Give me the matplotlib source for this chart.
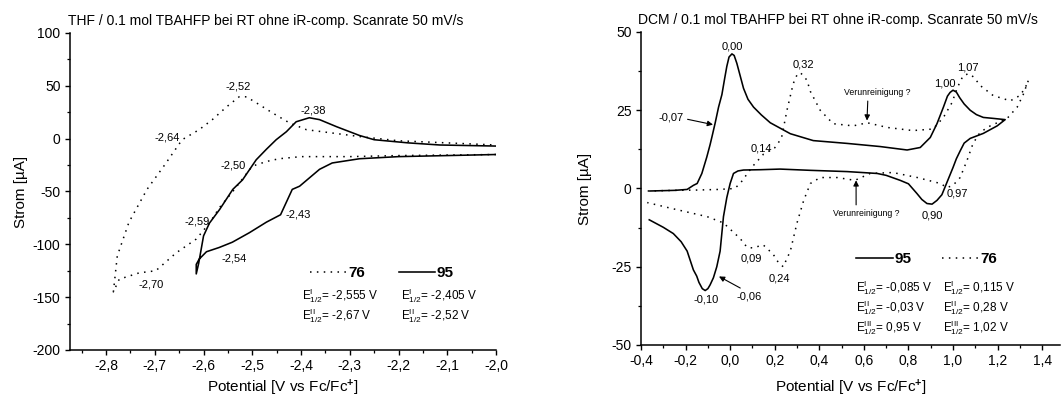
import matplotlib
matplotlib.use("Agg")
import matplotlib.pyplot as plt
from matplotlib.ticker import MultipleLocator, FuncFormatter

plt.rcParams['font.family'] = ['Liberation Sans', 'DejaVu Sans']
plt.rcParams['mathtext.fontset'] = 'custom'
plt.rcParams['mathtext.rm'] = 'Liberation Sans'
plt.rcParams['mathtext.it'] = 'Liberation Sans:italic'
plt.rcParams['mathtext.bf'] = 'Liberation Sans:bold'

# ---------------- THF data (potential in V vs Fc/Fc+, current in uA) ----------------
thf_76_E = [-2.00, -2.10, -2.20, -2.30, -2.40, -2.445, -2.47, -2.50, -2.54, -2.567,
            -2.588, -2.615, -2.656, -2.698, -2.732, -2.773, -2.785,
            -2.777, -2.753, -2.716, -2.68, -2.644, -2.609, -2.582, -2.553, -2.527,
            -2.512, -2.492, -2.459, -2.424, -2.389, -2.342, -2.28, -2.20, -2.10, -2.00]
thf_76_I = [-15, -15.5, -16, -17, -17, -19, -21.5, -26, -50, -65,
            -80, -95, -108, -125, -127, -133, -145,
            -111, -79, -48, -25, -1, 8.5, 18, 30, 39.6,
            39.6, 34, 24.5, 15, 8.5, 5.7, 2, -2, -4, -6]

thf_95_E = [-2.00, -2.10, -2.20, -2.28, -2.336, -2.362, -2.403, -2.418, -2.442, -2.471,
            -2.506, -2.541, -2.568, -2.594, -2.609, -2.615, -2.615,
            -2.61, -2.605, -2.60, -2.588, -2.567, -2.54, -2.52, -2.492, -2.471,
            -2.451, -2.43, -2.41, -2.383, -2.362, -2.327, -2.28, -2.25, -2.18, -2.115, -2.00]
thf_95_I = [-15, -16, -17, -19, -23, -29, -45, -48, -72, -79,
            -89, -98, -103, -107, -114, -119, -128,
            -118, -105, -92, -80, -67, -48, -39, -20, -10,
            -1, 6.6, 16, 19.8, 18, 11.3, 3, -1, -4, -6, -7]

# ---------------- DCM data ----------------
dcm_95_E = [-0.36, -0.25, -0.193, -0.165, -0.148, -0.127, -0.105, -0.09, -0.08, -0.067,
            -0.052, -0.037, -0.025, -0.015, -0.005, 0.008, 0.018, 0.03, 0.045, 0.06,
            0.08, 0.105, 0.14, 0.18, 0.27, 0.373, 0.525, 0.673,
            0.794, 0.853, 0.898, 0.928, 0.957, 0.975, 0.987, 1.00, 1.015, 1.03, 1.05,
            1.077, 1.105, 1.136, 1.18, 1.234,
            1.198, 1.136, 1.077, 1.05, 1.032, 1.015, 1.00, 0.973, 0.95, 0.928, 0.906,
            0.883, 0.86, 0.838, 0.80, 0.763, 0.70, 0.66, 0.525, 0.36, 0.224, 0.135,
            0.06, 0.035, 0.015, 0.00, -0.015, -0.03, -0.045, -0.06, -0.075, -0.09,
            -0.10, -0.112, -0.125, -0.14, -0.15, -0.165, -0.193, -0.22, -0.255, -0.30, -0.363]
dcm_95_I = [-0.8, -0.6, -0.3, 1.0, 1.6, 4.8, 10, 14, 17, 21,
            26, 30, 35, 39, 42, 43, 42.5, 40, 36, 32,
            28.5, 26, 23.5, 21, 17.5, 15.3, 14.4, 13.4,
            12.3, 13.1, 16.3, 20.7, 26, 29.5, 30.7, 31.4, 30.8, 29, 27,
            25, 23.6, 22.7, 22.4, 22.0,
            20, 17.6, 16, 14.5, 12, 9.5, 6.7, 2, -2, -3.8, -5,
            -4.8, -3.5, -1.6, 1.5, 2.6, 4.2, 4.8, 5.4, 5.8, 6.2, 6.0,
            5.9, 5.6, 4.8, 1.6, -2.9, -9, -20, -25, -28.5, -30.8,
            -32, -32.6, -32, -30, -28, -26, -20, -17, -14.4, -12.4, -10]

dcm_76_E = [-0.37, -0.25, -0.15, -0.05, 0.02, 0.045, 0.10, 0.15, 0.20, 0.23,
            0.255, 0.283, 0.300, 0.314, 0.330, 0.345, 0.36, 0.404, 0.462, 0.552, 0.615,
            0.705, 0.82, 0.91, 0.957, 0.996, 1.018, 1.045, 1.07, 1.095, 1.12, 1.18,
            1.257, 1.30, 1.323, 1.338,
            1.315, 1.288, 1.243, 1.167, 1.122, 1.09, 1.063, 1.032, 1.00, 0.973,
            0.943, 0.84, 0.73, 0.628, 0.56, 0.48, 0.404, 0.36, 0.33, 0.30,
            0.27, 0.238, 0.215, 0.193, 0.148, 0.103, 0.076, 0.045, -0.03, -0.103, -0.255, -0.372]
dcm_76_I = [-0.8, -0.6, -0.5, -0.3, 0, 1.6, 7, 11, 13, 16,
            25, 33.5, 36.3, 37, 36, 34.5, 31, 25, 20.7, 20, 21,
            19.5, 18.5, 19, 22.7, 27.5, 32, 36, 36.7, 35.5, 33, 29.7,
            28, 29.7, 32, 34.5,
            30, 26, 22.4, 20, 18, 14.4, 9, 3.5, 1.0, 0.3,
            1.6, 3.5, 5.1, 4.8, 2.6, 3.5, 3.5, 1.6, -3.8, -11,
            -20, -25, -23.5, -21, -18, -19, -18.8, -16, -11, -9, -6.5, -4.5]

# peak labels: (text, x, y)
thf_peaks = [("-2,52", -2.529, 49), ("-2,38", -2.375, 27), ("-2,64", -2.675, 1),
             ("-2,50", -2.539, -25.5), ("-2,59", -2.613, -78), ("-2,43", -2.405, -72),
             ("-2,54", -2.537, -113), ("-2,70", -2.707, -138)]
dcm_peaks = [("0,00", 0.01, 45.5), ("0,32", 0.328, 39.6), ("1,07", 1.067, 38.7),
             ("1,00", 0.964, 33.5), ("0,14", 0.139, 12.8), ("0,97", 1.018, -1.6),
             ("0,90", 0.906, -8.6), ("0,09", 0.094, -22.4), ("0,24", 0.22, -28.8),
             ("-0,10", -0.108, -35.5)]

thf_e12_76 = [r"E$^{\mathrm{I}}_{\mathrm{1/2}}$= -2,555 V", r"E$^{\mathrm{II}}_{\mathrm{1/2}}$= -2,67 V"]
thf_e12_95 = [r"E$^{\mathrm{I}}_{\mathrm{1/2}}$= -2,405 V", r"E$^{\mathrm{II}}_{\mathrm{1/2}}$= -2,52 V"]
dcm_e12_95 = [r"E$^{\mathrm{I}}_{\mathrm{1/2}}$= -0,085 V", r"E$^{\mathrm{II}}_{\mathrm{1/2}}$= -0,03 V",
              r"E$^{\mathrm{III}}_{\mathrm{1/2}}$= 0,95 V"]
dcm_e12_76 = [r"E$^{\mathrm{I}}_{\mathrm{1/2}}$= 0,115 V", r"E$^{\mathrm{II}}_{\mathrm{1/2}}$= 0,28 V",
              r"E$^{\mathrm{III}}_{\mathrm{1/2}}$= 1,02 V"]

title_thf = "THF / 0.1 mol TBAHFP bei RT ohne iR-comp. Scanrate 50 mV/s"
title_dcm = "DCM / 0.1 mol TBAHFP bei RT ohne iR-comp. Scanrate 50 mV/s"
xlabel = r"Potential [V vs Fc/Fc$^{\mathbf{+}}$]"
ylabel = "Strom [µA]"

SOLID = dict(color="black", lw=1.15, linestyle="-", solid_joinstyle="round")
DOTTED = dict(color="black", lw=1.1, linestyle=(0, (1, 3.5)))

fig = plt.figure(figsize=(10.61, 3.99), dpi=100)
ax1 = fig.add_axes([0.06598, 0.12281, 0.4015, 0.7945])
ax2 = fig.add_axes([0.60415, 0.13534, 0.3949, 0.7845])

comma1 = FuncFormatter(lambda v, p: f"{v:.1f}".replace(".", ",").replace("-0,0", "0,0"))
int_fmt = FuncFormatter(lambda v, p: f"{v:.0f}")


def style_axes(ax):
    for s in ("top", "right"):
        ax.spines[s].set_visible(False)
    for s in ("left", "bottom"):
        ax.spines[s].set_linewidth(1.1)
    ax.tick_params(which="major", direction="out", length=3.8, width=1.0, labelsize=10, pad=3)
    ax.tick_params(which="minor", direction="out", length=2.2, width=0.9)
    ax.xaxis.set_major_formatter(comma1)
    ax.yaxis.set_major_formatter(int_fmt)
    ax.set_ylabel(ylabel, fontsize=11)


# ---- THF panel ----
l76a, = ax1.plot(thf_76_E, thf_76_I, **DOTTED)
l95a, = ax1.plot(thf_95_E, thf_95_I, **SOLID)
ax1.set_xlim(-2.874, -2.0)
ax1.set_ylim(-200, 100)
ax1.xaxis.set_major_locator(MultipleLocator(0.1))
ax1.xaxis.set_minor_locator(MultipleLocator(0.05))
ax1.yaxis.set_major_locator(MultipleLocator(50))
ax1.yaxis.set_minor_locator(MultipleLocator(25))
style_axes(ax1)
ax1.set_xlabel(xlabel, fontsize=11, labelpad=3)
ax1.yaxis.labelpad = 3
ax1.set_title(title_thf, fontsize=10, loc="left", x=-0.005, pad=6)
for t, x, y in thf_peaks:
    ax1.text(x, y, t, fontsize=8, ha="center", va="center")
ax1.legend([l76a, l95a], ["76", "95"], ncol=2, frameon=False,
           loc="center left", bbox_to_anchor=(0.5634, 0.2429),
           borderaxespad=0, borderpad=0, handlelength=2.4, handletextpad=0.1,
           columnspacing=2.2, prop=dict(weight="bold", size=11))
for i, t in enumerate(thf_e12_76):
    ax1.text(-2.397, -149 - 18.5 * i, t, fontsize=8.5, ha="left", va="center")
for i, t in enumerate(thf_e12_95):
    ax1.text(-2.194, -149 - 18.5 * i, t, fontsize=8.5, ha="left", va="center")

# ---- DCM panel ----
l95b, = ax2.plot(dcm_95_E, dcm_95_I, **SOLID)
l76b, = ax2.plot(dcm_76_E, dcm_76_I, **DOTTED)
ax2.set_xlim(-0.4, 1.48)
ax2.set_ylim(-50, 50)
ax2.xaxis.set_major_locator(MultipleLocator(0.2))
ax2.xaxis.set_minor_locator(MultipleLocator(0.1))
ax2.yaxis.set_major_locator(MultipleLocator(25))
ax2.yaxis.set_minor_locator(MultipleLocator(12.5))
style_axes(ax2)
ax2.set_xlabel(xlabel, fontsize=11, labelpad=6.5)
ax2.yaxis.labelpad = 14
ax2.set_title(title_dcm, fontsize=10, loc="left", x=-0.008, pad=6)
for t, x, y in dcm_peaks:
    ax2.text(x, y, t, fontsize=8, ha="center", va="center")

arrow = dict(arrowstyle="-|>", color="black", lw=0.8, mutation_scale=8, shrinkA=1, shrinkB=0)
ax2.annotate("-0,07", xy=(-0.077, 20.4), xytext=(-0.266, 22.7), fontsize=8,
             ha="center", va="center", arrowprops=dict(arrow, relpos=(1.0, 0.4)))
ax2.annotate("-0,06", xy=(-0.05, -28.1), xytext=(0.085, -34.5), fontsize=8,
             ha="center", va="center", arrowprops=dict(arrow, relpos=(0.4, 1.0)))
ax2.annotate("Verunreinigung ?", xy=(0.614, 21.7), xytext=(0.66, 30.7), fontsize=6.3,
             ha="center", va="center", arrowprops=dict(arrow, relpos=(0.36, 0.0)))
ax2.annotate("Verunreinigung ?", xy=(0.565, 2.6), xytext=(0.61, -8.0), fontsize=6.3,
             ha="center", va="center", arrowprops=dict(arrow, relpos=(0.35, 1.0)))

ax2.legend([l95b, l76b], ["95", "76"], ncol=2, frameon=False,
           loc="center left", bbox_to_anchor=(0.5131, 0.2748),
           borderaxespad=0, borderpad=0, handlelength=2.4, handletextpad=0.1,
           columnspacing=2.0, prop=dict(weight="bold", size=11))
for i, t in enumerate(dcm_e12_95):
    ax2.text(0.565, -31.6 - 6.4 * i, t, fontsize=8.5, ha="left", va="center")
for i, t in enumerate(dcm_e12_76):
    ax2.text(0.955, -31.6 - 6.4 * i, t, fontsize=8.5, ha="left", va="center")

fig.savefig("out.png", dpi=100)
